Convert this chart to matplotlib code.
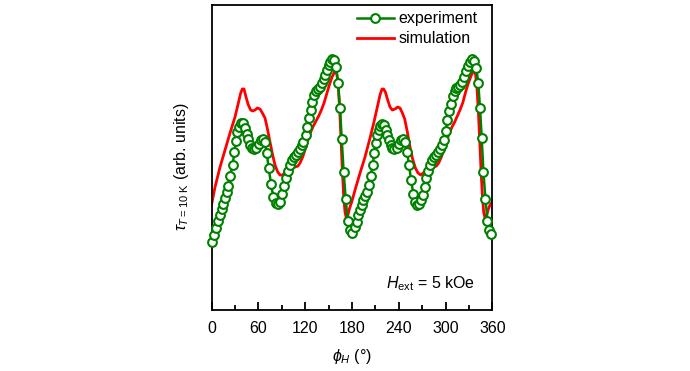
import matplotlib
matplotlib.use("Agg")
import matplotlib.pyplot as plt

plt.rcParams['font.family'] = ['Liberation Sans', 'DejaVu Sans']
plt.rcParams['mathtext.fontset'] = 'custom'
plt.rcParams['mathtext.rm'] = 'Liberation Sans'
plt.rcParams['mathtext.it'] = 'Liberation Sans:italic'
plt.rcParams['mathtext.fallback'] = 'cm'

# Measured torque (open circles), angle in degrees and arbitrary units.
exp_phi = [0.9, 3.0, 5.6, 7.7, 10.7, 12.8, 15.0, 17.1, 19.7, 21.4, 23.5, 26.9, 29.1, 31.2,
           32.9, 35.1, 37.6, 40.6, 42.8, 44.9, 47.0, 49.2, 51.3, 54.3, 57.3, 60.3, 62.9,
           65.4, 68.0, 70.6, 73.1, 76.1, 79.1, 82.1, 85.1, 87.7, 90.6, 93.2, 95.6, 98.0,
           100.5, 103.0, 105.6, 108.2, 110.7, 113.3, 115.4, 117.6, 120.6, 122.7, 124.9,
           127.0, 129.1, 131.3, 133.4, 136.0, 139.0, 141.5, 143.7, 145.8, 147.9, 150.1,
           152.2, 154.4, 156.9, 159.5, 162.1, 164.6, 166.8, 169.3, 171.9, 174.5, 177.4,
           180.4, 183.9, 186.0, 188.1, 190.3, 192.4, 194.6, 196.7, 198.8, 201.8, 204.0,
           206.5, 208.7, 210.4, 212.5, 214.2, 216.4, 218.9, 221.1, 223.2, 225.3, 227.5,
           229.6, 231.6, 234.3, 237.3, 240.5, 243.3, 245.9, 248.4, 250.6, 253.1, 255.8,
           258.7, 261.4, 264.0, 266.5, 268.8, 271.0, 273.2, 275.4, 277.8, 280.2, 282.8,
           285.4, 288.0, 290.6, 293.2, 295.6, 297.8, 300.2, 302.3, 304.5, 306.8, 309.2,
           311.5, 314.0, 316.4, 318.8, 321.4, 324.0, 326.4, 328.8, 331.4, 334.0, 336.8,
           339.4, 342.0, 344.2, 346.4, 348.6, 351.2, 353.8, 356.2, 358.6]
exp_tau = [68, 75, 82, 89, 95, 101, 106, 112, 118, 124, 134, 145, 158, 169,
           178, 183, 187, 187, 182, 176, 171, 165, 162, 161, 162, 166, 170,
           171, 168, 157, 142, 126, 113, 107, 106, 108, 116, 124, 132, 139,
           145, 150, 153, 155, 158, 161, 165, 168, 175, 183, 192,
           200, 208, 215, 219, 221, 223, 227, 231, 235, 240, 245,
           248, 251, 250, 243, 227, 202, 171, 138, 111, 89, 80,
           77, 83, 88, 95, 100, 105, 110, 114, 118, 125, 134,
           145, 157, 167, 175, 180, 184, 186, 185, 180, 175, 170,
           165, 162, 161, 162, 166, 170, 171, 168, 158, 145, 130,
           116, 108, 105, 106, 110, 115, 123, 132, 139, 145, 150,
           153, 155, 158, 161, 165, 170, 179, 190, 199, 206, 214,
           219, 222, 223, 225, 228, 233, 239, 244, 248, 251, 249,
           242, 227, 202, 172, 138, 111, 89, 80, 76]

# Simulated torque (red line).
sim_phi = [0, 4.3, 10.7, 17.1, 23.5, 29.9, 34.2, 37.2, 39.3, 41.5, 44.0, 47.0, 50.0, 52.6,
           55.6, 58.6, 62.0, 65.0, 68.4, 71.8, 74.8, 78.2, 81.2, 84.7, 87.7, 91.1, 94.1,
           97.1, 100.5, 103.9, 107.3, 110.7, 113.3, 116.7, 120.1, 123.6, 127.0, 130.4,
           133.8, 137.3, 140.7, 144.1, 147.5, 150.9, 154.4, 156.9, 159.1, 160.8, 162.5,
           164.2, 165.9, 167.6, 169.3, 171.0, 172.7, 174.5, 176.6, 179.6, 183.9, 190.3,
           196.7, 203.1, 208.2, 212.5, 215.9, 218.5, 220.6, 222.8, 225.8, 228.7, 231.7,
           235.2, 238.6, 241.6, 244.6, 247.6, 251.0, 254.4, 257.8, 261.3, 264.7, 268.1,
           271.5, 274.5, 277.9, 281.4, 284.8, 288.2, 291.2, 294.6, 298.0, 301.4, 304.9,
           308.3, 311.7, 315.1, 318.5, 322.0, 325.4, 328.8, 332.2, 334.8, 336.9, 338.6,
           340.3, 342.0, 343.8, 345.5, 347.2, 348.9, 350.6, 352.3, 354.5, 357.0, 360.0]
sim_tau = [106, 123, 143, 160, 177, 193, 207, 217, 221, 221, 213, 205, 200, 199,
           200, 202, 201, 197, 192, 180, 168, 155, 145, 138, 135, 135, 138,
           142, 145, 144, 143, 144, 147, 153, 161, 170, 178, 184,
           189, 194, 200, 207, 216, 225, 233, 237, 239, 235, 222,
           200, 170, 140, 115, 98, 92, 94, 101, 108, 120, 137,
           153, 172, 188, 203, 215, 221, 221, 218, 210, 203, 200,
           201, 203, 202, 197, 191, 178, 163, 151, 142, 137, 135,
           137, 140, 143, 144, 143, 144, 147, 153, 161, 170, 177,
           183, 188, 194, 200, 207, 217, 226, 233, 238, 239, 235,
           222, 200, 170, 140, 115, 98, 92, 93, 100, 105, 108]

fig = plt.figure(figsize=(6.9, 3.71), dpi=100)
ax = fig.add_axes([0.3068, 0.1644, 0.4067, 0.8221])

ax.plot(sim_phi, sim_tau, color='red', lw=2.0, label='simulation', zorder=2)
ax.plot(exp_phi, exp_tau, color='green', lw=1.8, marker='o', ms=6.3, mew=1.5,
        mfc='white', mec='green', label='experiment', zorder=3, clip_on=False)

ax.set_xlim(0, 360)
ax.set_ylim(0, 305)
ax.set_xticks(range(0, 361, 60))
ax.set_xticks(range(30, 360, 60), minor=True)
ax.tick_params(axis='x', which='both', direction='in', top=False, labelsize=11.5,
               width=1.3, pad=8)
ax.tick_params(axis='x', which='major', length=6)
ax.tick_params(axis='x', which='minor', length=3.5)
ax.tick_params(axis='y', left=False, labelleft=False)
for s in ax.spines.values():
    s.set_linewidth(1.3)

ax.set_xlabel(r'$\phi_H$ ($\degree$)', fontsize=11.5)
ax.xaxis.set_label_coords(0.5, -0.12)
ax.set_ylabel(r'$\tau_{T\rm{=10\ K}}$ (arb. units)', fontsize=11.5)
ax.yaxis.set_label_coords(-0.075, 0.47)

ax.text(0.938, 0.072, r'$H_{\rm ext}$ = 5 kOe', transform=ax.transAxes,
        ha='right', va='baseline', fontsize=11.5)

handles, labels = ax.get_legend_handles_labels()
ax.legend(handles[::-1], labels[::-1], loc='upper right', frameon=False,
          fontsize=11.5, handlelength=2.3, handletextpad=0.3, labelspacing=0.3,
          borderaxespad=0.0, bbox_to_anchor=(0.97, 1.0))

fig.savefig('out.png', dpi=100)
